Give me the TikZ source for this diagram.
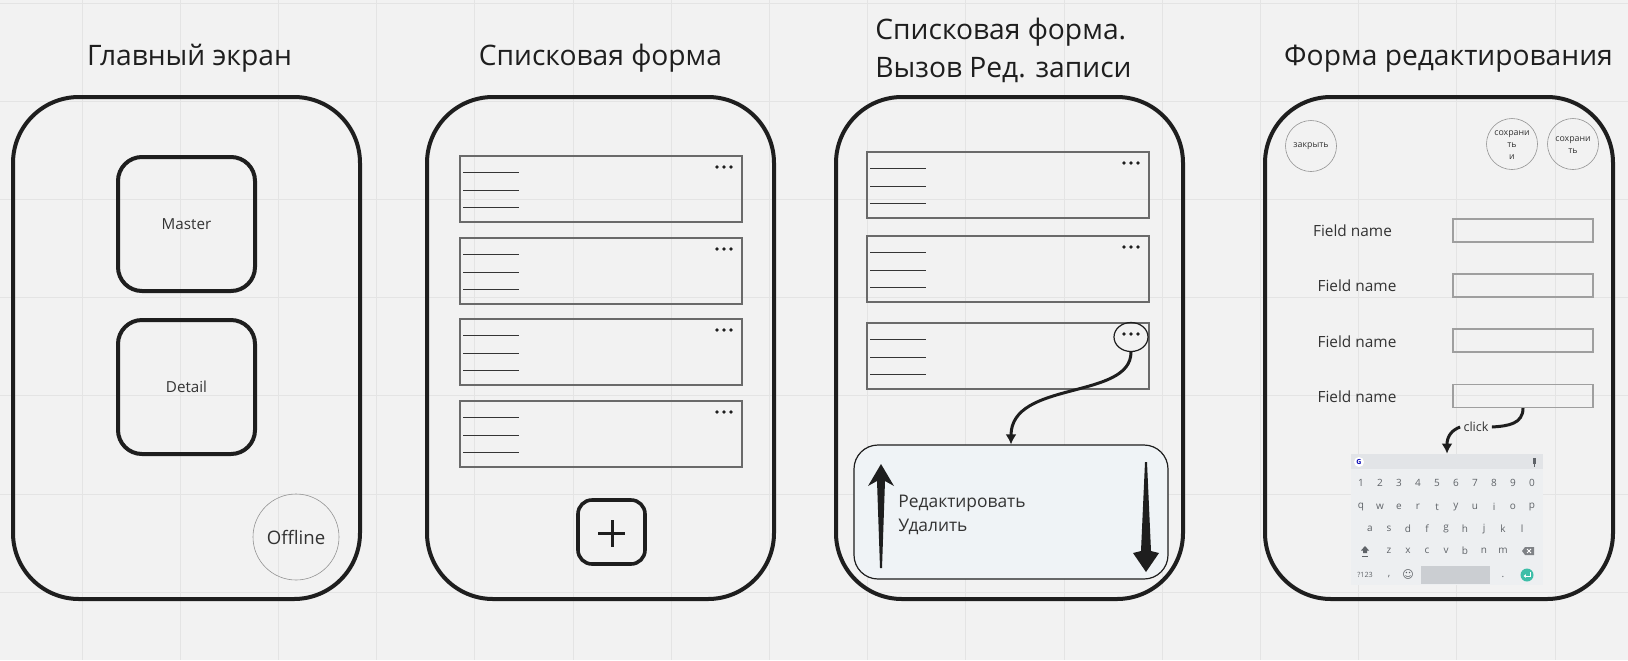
\documentclass[tikz,border=0pt]{standalone}
\usepackage{fontspec}
\setmainfont{Open Sans}
\newfontfamily\dejavu{DejaVu Sans}
\usetikzlibrary{arrows.meta,shapes.geometric}
\definecolor{bg}{HTML}{F2F2F2}
\definecolor{gridc}{HTML}{E4E4E4}
\definecolor{ink}{HTML}{1E1E1E}
\definecolor{txt}{HTML}{333333}
\definecolor{itemc}{HTML}{6A6A6A}
\definecolor{menubg}{HTML}{EFF3F6}
\definecolor{kbbg}{HTML}{EDEFF1}
\definecolor{kbbar}{HTML}{E2E4E7}
\definecolor{kbkey}{HTML}{5F6368}
\definecolor{spacec}{HTML}{CBCED2}
\definecolor{tealc}{HTML}{3EBEA8}
\newcommand\lstitem[3]{%
  \node[item] (#1) at (#2+141,#3+33) {};
  \foreach \dy in {16,34,51} \draw[ul] (#2+3,#3+\dy) -- (#2+59,#3+\dy);
  \foreach \dx in {257,264,271} \fill[ink] (#2+\dx,#3+11) circle[radius=0.95pt];
}
\begin{document}
\begin{tikzpicture}[x=0.5pt,y=-0.5pt,
 phone/.style={draw=ink,line width=2pt,rounded corners=33pt,minimum width=173.5pt,minimum height=251pt,inner sep=0pt},
 sq/.style={draw=ink,line width=2pt,rounded corners=12pt,minimum width=68.5pt,minimum height=67pt,inner sep=0pt,font=\fontsize{7.6pt}{9pt}\selectfont,text=txt},
 title/.style={font=\fontsize{14.1pt}{17pt}\selectfont,text=ink,inner sep=0pt},
 item/.style={draw=itemc,line width=0.55pt,minimum width=141pt,minimum height=33pt,inner sep=0pt},
 ul/.style={draw=ink!90,line width=0.4pt},
 thinc/.style={draw=gray!85,line width=0.3pt,circle,inner sep=0pt},
 conn/.style={draw=ink,line width=1.5pt,-{Latex[length=5pt,width=5.5pt]}},
 key/.style={font=\fontsize{5pt}{6pt}\selectfont,text=kbkey,inner sep=0pt},
 field/.style={draw=gray!75,line width=0.6pt,minimum width=70pt,minimum height=11.5pt,inner sep=0pt},
 fname/.style={font=\fontsize{7.7pt}{9pt}\selectfont,text=txt,inner sep=0pt},
 small/.style={font=\fontsize{4.4pt}{6pt}\selectfont,text=txt,align=center,inner sep=0pt},
]
\useasboundingbox (0,0) rectangle (1628,660);
\fill[bg] (0,0) rectangle (1628,660);
\foreach \g in {0,...,15} \draw[gridc,line width=0.5pt] (82+98.2*\g,0) -- (82+98.2*\g,660);
\foreach \g in {0,...,6} \draw[gridc,line width=0.5pt] (0,3+98.2*\g) -- (1628,3+98.2*\g);

% ---------- titles
\node[title,anchor=base] (t1) at (189.5,65) {Главный экран};
\node[title,anchor=base] (t2) at (600.5,65) {Списковая форма};
\node[title,anchor=base west] (t3a) at (875,39) {Списковая форма.};
\node[title,anchor=base west] (t3b) at (875,77) {Вызов Ред. записи};
\node[title,anchor=base] (t4) at (1448.5,65) {Форма редактирования};

% ---------- phone 1
\node[phone] (p1) at (186.5,348) {};
\node[sq] (master) at (186.5,224) {Master};
\node[sq] (detail) at (186.5,387) {Detail};
\node[thinc,minimum size=43pt,font=\fontsize{9.3pt}{11pt}\selectfont,text=txt] (offline) at (296,537) {Offline};

% ---------- phone 2
\node[phone] (p2) at (600.5,348) {};
\lstitem{a1}{460}{156}
\lstitem{a2}{460}{238}
\lstitem{a3}{460}{319}
\lstitem{a4}{460}{401}
\node[draw=ink,line width=1.8pt,rounded corners=7pt,minimum width=33.5pt,minimum height=32pt,inner sep=0pt] (plus) at (611.5,532) {};
\draw[ink,line width=1.5pt] (598,533) -- (625,533) (612,520) -- (612,547);

% ---------- phone 3
\node[phone] (p3) at (1009.5,348) {};
\lstitem{b1}{867}{152}
\lstitem{b2}{867}{236}
\lstitem{b3}{867}{323}
\node[draw=ink,line width=0.6pt,ellipse,minimum width=17pt,minimum height=14.5pt,inner sep=0pt] (ell) at (1131,337) {};
\node[draw=ink,fill=menubg,line width=0.6pt,rounded corners=12pt,minimum width=157pt,minimum height=67pt,inner sep=0pt] (menu) at (1011,512) {};
\draw[conn] (ell.south) .. controls (1131,400) and (1011,380) .. (menu.north);
\fill[ink] (881,464) -- (894,486) -- (885,481) -- (882,568) -- (880,568) -- (877,481) -- (868,486) -- cycle;
\fill[ink] (1145,462) -- (1147,462) -- (1151,551) -- (1159,553) -- (1146,572) -- (1133,553) -- (1141,551) -- cycle;
\node[anchor=base west,inner sep=0pt,font=\fontsize{8.7pt}{10pt}\selectfont,text=txt] (edit) at (898,507) {Редактировать};
\node[anchor=base west,inner sep=0pt,font=\fontsize{8.7pt}{10pt}\selectfont,text=txt] (del) at (898,531) {Удалить};

% ---------- phone 4
\node[phone,minimum width=174pt] (p4) at (1439,348) {};
\node[thinc,minimum size=25.5pt] (close) at (1311,146) {};
\node[small] (closet) at (1311,146) {закрыть};
\node[thinc,minimum size=25.5pt] (savec) at (1512,144) {};
\node[small] (savect) at (1512,145) {сохрани\\ть\\и};
\node[thinc,minimum size=25.5pt] (save) at (1573,144) {};
\node[small] (savet) at (1573,145.5) {сохрани\\ть};

\node[fname] (n1) at (1352.5,231) {Field name};
\node[fname] (n2) at (1357,286) {Field name};
\node[fname] (n3) at (1357,342) {Field name};
\node[fname] (n4) at (1357,397) {Field name};
\node[field] (f1) at (1523,230.5) {};
\node[field] (f2) at (1523,285.5) {};
\node[field] (f3) at (1523,340.5) {};
\node[field] (f4) at (1523,396) {};

% keyboard
\node[fill=kbbg,minimum width=96pt,minimum height=65.5pt,inner sep=0pt] (kb) at (1447,519.5) {};
\fill[kbbar] (1351,454) rectangle (1543,469);
\node[circle,fill=white,minimum size=5pt,inner sep=0pt,font=\fontsize{3.5pt}{4pt}\selectfont\bfseries,text=blue!70!black] (glogo) at (1359,462) {G};
\fill[kbkey] (1532.5,458) rectangle (1535.5,464);
\draw[kbkey,line width=0.4pt] (1534,464) -- (1534,467);
\foreach \k [count=\i from 0] in {1,2,3,4,5,6,7,8,9,0}
  \node[key] (num\i) at (1361+19*\i,483) {\k};
\foreach \k [count=\i from 0] in {q,w,e,r,t,y,u,i,o,p}
  \node[key] (qr\i) at (1361+19*\i,507) {\k};
\foreach \k [count=\i from 0] in {a,s,d,f,g,h,j,k,l}
  \node[key] (as\i) at (1370+19*\i,529) {\k};
\foreach \k [count=\i from 0] in {z,x,c,v,b,n,m}
  \node[key] (zx\i) at (1389+19*\i,551) {\k};
\fill[kbkey] (1365,546) -- (1369,550.5) -- (1367,550.5) -- (1367,553) -- (1363,553) -- (1363,550.5) -- (1361,550.5) -- cycle;
\draw[kbkey,line width=0.3pt] (1362,556) -- (1368,556);
\fill[kbkey!80] (1522,551) -- (1525,547) -- (1534,547) -- (1534,555) -- (1525,555) -- cycle;
\draw[white,line width=0.4pt] (1527,549) -- (1531,553) (1527,553) -- (1531,549);
\node[key,font=\fontsize{3.6pt}{4pt}\selectfont] (sym) at (1365,575) {?123};
\node[key] (comma) at (1389,577) {,};
\node[key,font=\dejavu\fontsize{5.5pt}{6pt}\selectfont] (emo) at (1408,574) {☺};
\fill[spacec] (1421,566) rectangle (1490,584);
\node[key] (period) at (1503,577) {.};
\node[circle,fill=tealc,minimum size=6.5pt,inner sep=0pt] (enter) at (1527,575) {};
\draw[white,line width=0.5pt,-{Latex[length=1.2pt,width=2pt]}] (1530,572) -- (1530,576) -- (1523.5,576);

\node[inner sep=1.5pt,font=\fontsize{6.3pt}{7pt}\selectfont,text=txt] (click) at (1476,427) {click};
\draw[ink,line width=1.5pt] (f4.south) .. controls (1523,424) and (1508,426) .. (click.east);
\draw[conn] (click.west) .. controls (1452,430) and (1447,436) .. (kb.north);
\end{tikzpicture}
\end{document}
